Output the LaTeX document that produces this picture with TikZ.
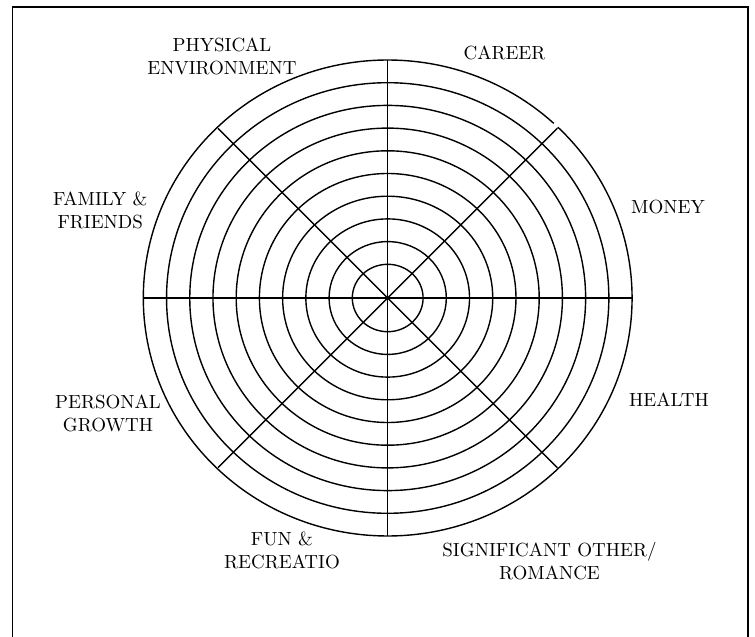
\documentclass[tikz,border=0pt]{standalone}
\usetikzlibrary{positioning}
\begin{document}
\begin{tikzpicture}[x=0.5pt, y=0.5pt, every node/.style={font=\fontsize{9.5}{11.5}\selectfont, align=center},
	ring/.style={line width=0.7pt}, frame/.style={line width=0.85pt}]
	\useasboundingbox (-387.7,-339) rectangle (367.3,298);
	\draw[frame] (-375.2,-345) -- (-375.2,291.3) -- (360.6,291.3) -- (360.6,-345);
	
	% wheel
	\coordinate (c) at (0,0);
	\foreach \k in {0,...,8}
		\draw[ring] (c) ellipse ({35.4+23.22*\k} and {33.7+22.7*\k});
	\draw[ring] (47.2:244.4 and 238) arc[start angle=47.2, end angle=405.9, x radius=244.4, y radius=238];
	\coordinate (w) at (-244.4,0);
	\coordinate (e) at (244.4,0);
	\coordinate (n) at (0,238);
	\coordinate (s) at (0,-238);
	\draw[ring] (w) -- (e);
	\draw[ring] (n) -- (s);
	\foreach \a in {45,135,225,315}
		\draw[ring] (c) -- (\a:240);
	
	% labels
	\node (physical) at (-165.7,241.5) {PHYSICAL\\ENVIRONMENT};
	\node (career) at (116.8,245) {CAREER};
	\node (money) at (280.3,91) {MONEY};
	\node (family) at (-287.4,87.5) {FAMILY \&\\FRIENDS};
	\node (personal) at (-279.7,-115.5) {PERSONAL\\GROWTH};
	\node (health) at (281.3,-102) {HEALTH};
	\node (fun) at (-105.7,-252) {FUN \&\\RECREATIO};
	\node (romance) at (161.8,-263) {SIGNIFICANT OTHER/\\ROMANCE};
\end{tikzpicture}
\end{document}
